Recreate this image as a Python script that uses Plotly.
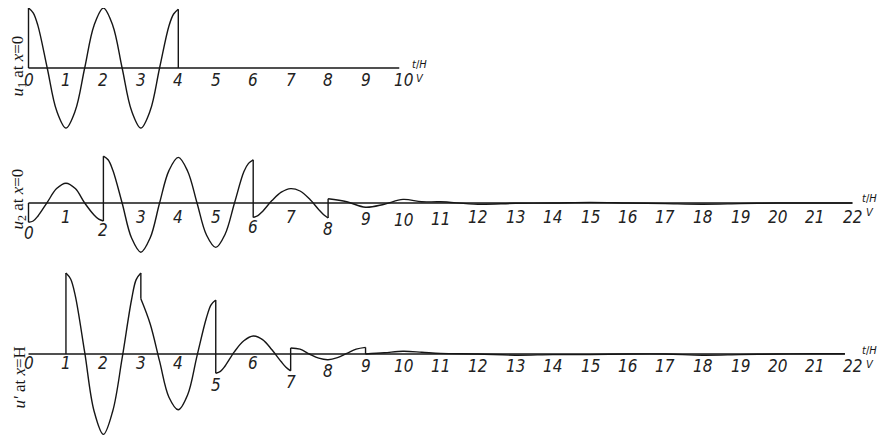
import plotly.graph_objects as go

# ---------------- data ----------------
# u1 at x=0  (jumps are written as repeated t values)
u1_t = [0, 0, 0.125, 0.25, 0.5, 0.75, 1, 1.25, 1.5, 1.75, 2, 2.25, 2.5, 2.75, 3, 3.25, 3.5, 3.75,
        3.875, 4, 4]
u1_v = [0, 1.0, 0.92, 0.71, 0.0, -0.71, -1.0, -0.71, 0.0, 0.71, 1.0, 0.71, 0.0, -0.71, -1.0,
        -0.71, 0.0, 0.7, 0.9, 0.98, 0]

# u2 at x=0
u2_t = [0, 0, 0.125, 0.25, 0.5, 0.75, 1, 1.25, 1.5, 1.75, 1.875, 2, 2, 2.125, 2.25, 2.5, 2.75, 3,
        3.25, 3.5, 3.75, 4, 4.25, 4.5, 4.75, 5, 5.25, 5.5, 5.75, 5.875, 6, 6, 6.125, 6.25, 6.5,
        6.75, 7, 7.25, 7.5, 7.75, 7.875, 8, 8, 8.5, 9, 9.5, 10, 10.5, 11, 12, 13, 14, 15, 16, 17,
        18, 19, 20, 21, 22]
u2_v = [0, -0.32, -0.3, -0.22, 0.01, 0.24, 0.33, 0.24, 0.0, -0.2, -0.27, -0.30, 0.78, 0.72, 0.55,
        0.0, -0.58, -0.82, -0.58, 0.0, 0.54, 0.76, 0.53, 0.0, -0.53, -0.74, -0.52, 0.0, 0.52, 0.66,
        0.72, -0.24, -0.21, -0.14, 0.04, 0.18, 0.24, 0.2, 0.07, -0.11, -0.19, -0.25, 0.07, 0.02,
        -0.07, -0.02, 0.06, 0.02, 0.02, -0.02, -0.005, 0.0, 0.01, 0.0, -0.01, -0.02, -0.01, 0.0,
        0.0, 0.0]

# u' at x=H
up_t = [1, 1, 1.125, 1.25, 1.5, 1.75, 2, 2.25, 2.5, 2.75, 2.875, 3, 3, 3.25, 3.5, 3.75, 4, 4.25,
        4.5, 4.75, 4.875, 5, 5, 5.125, 5.25, 5.5, 5.75, 6, 6.25, 6.5, 6.75, 6.875, 7, 7, 7.25, 7.5,
        7.75, 8, 8.25, 8.5, 8.75, 9, 9, 9.5, 10, 10.5, 11, 12, 13, 14, 15, 16, 17, 18, 19, 20, 21,
        21.8]
up_v = [0, 1.35, 1.25, 0.97, 0.03, -0.95, -1.34, -0.95, -0.07, 0.9, 1.24, 1.35, 0.92, 0.5, -0.12,
        -0.72, -0.93, -0.68, -0.03, 0.6, 0.82, 0.9, -0.32, -0.29, -0.2, 0.04, 0.22, 0.3, 0.24, 0.07,
        -0.13, -0.22, -0.28, 0.1, 0.08, 0.0, -0.07, -0.095, -0.06, 0.01, 0.08, 0.11, 0.0, 0.02,
        0.045, 0.03, 0.01, 0.0, -0.02, -0.01, -0.01, 0.0, 0.0, -0.02, -0.01, 0.0, 0.005, 0.005]

# axis extents (t) for each trace
axis_end = [9.9, 22.0, 21.8]

# tick labels
ticks_1 = [str(i) for i in range(0, 11)]
ticks_2 = [str(i) for i in range(0, 23)]
ticks_3 = [str(i) for i in range(0, 23)]

y_labels = ["<i>u</i><sub>1</sub> at <i>x</i>=0",
            "<i>u</i><sub>2</sub> at <i>x</i>=0",
            "<i>u'</i> at <i>x</i>=H"]
t_unit = "<i>t</i>/<i>H</i><br><i>V</i>"

# ---------------- layout geometry ----------------
# the page adds an 8px body margin, so the figure is 880x430 and pixel positions are page-8
W, H = 880, 430
X0PX, PXU = 20.5, 37.45       # pixel of t=0, pixels per unit t
VPX = 60                      # pixels per unit of u
axis_rows = [60, 195, 346]    # pixel row of each zero line
bands = [(0, 127), (127, 257), (257, 430)]

# label offsets below axis (px)
off_1 = {}
off_2 = {0: 30, 2: 27, 6: 24, 8: 26, 9: 16, 10: 17, 11: 16}
off_3 = {5: 31, 7: 28, 8: 17}
def_off = [12, 14, 9]
off_tail3 = 12

INK = "#161616"
FONT = "Liberation Sans Narrow, DejaVu Sans Condensed, Liberation Sans, sans-serif"

fig = go.Figure()

panels = [(u1_t, u1_v), (u2_t, u2_v), (up_t, up_v)]
for p, (tt, vv) in enumerate(panels):
    xa = "x" if p == 0 else f"x{p+1}"
    ya = "y" if p == 0 else f"y{p+1}"
    # zero line
    fig.add_trace(go.Scatter(x=[0, axis_end[p]], y=[0, 0], mode="lines",
                             line=dict(color=INK, width=1.5), xaxis=xa, yaxis=ya,
                             hoverinfo="skip", showlegend=False))
    # split curve at jumps
    segs = []
    cur_t, cur_v = [tt[0]], [vv[0]]
    for i in range(1, len(tt)):
        if tt[i] == tt[i - 1]:
            segs.append(("s", cur_t, cur_v))
            segs.append(("j", [tt[i - 1], tt[i]], [vv[i - 1], vv[i]]))
            cur_t, cur_v = [tt[i]], [vv[i]]
        else:
            cur_t.append(tt[i]); cur_v.append(vv[i])
    segs.append(("s", cur_t, cur_v))
    for kind, st, sv in segs:
        if len(st) < 2:
            continue
        fig.add_trace(go.Scatter(
            x=st, y=sv, mode="lines",
            line=dict(color=INK, width=1.4,
                      shape="spline" if kind == "s" else "linear", smoothing=1.0),
            xaxis=xa, yaxis=ya, hoverinfo="skip", showlegend=False))

xr = [-X0PX / PXU, (W - X0PX) / PXU]
lay = dict(width=W, height=H, margin=dict(l=0, r=0, t=0, b=0), autosize=False,
           paper_bgcolor="white", plot_bgcolor="white", showlegend=False)
for p in range(3):
    top, bot = bands[p]
    y0 = axis_rows[p]
    sfx = "" if p == 0 else str(p + 1)
    lay["xaxis" + sfx] = dict(range=xr, domain=[0, 1], visible=False, fixedrange=True,
                              anchor="y" + sfx)
    lay["yaxis" + sfx] = dict(range=[-(bot - y0) / VPX, (y0 - top) / VPX],
                              domain=[1 - bot / H, 1 - top / H], visible=False,
                              fixedrange=True, anchor="x" + sfx)
fig.update_layout(**lay)

ann = []
tick_sets = [ticks_1, ticks_2, ticks_3]
offs = [off_1, off_2, off_3]
for p in range(3):
    xa = "x" if p == 0 else f"x{p+1}"
    ya = "y" if p == 0 else f"y{p+1}"
    for i, lab in enumerate(tick_sets[p]):
        o = offs[p].get(i, def_off[p])
        if p == 2 and i >= 9 and i not in offs[p]:
            o = off_tail3
        ann.append(dict(x=i, y=0, xref=xa, yref=ya, text=f"<i>{lab}</i>", showarrow=False,
                        xanchor="center", yanchor="middle", yshift=-o,
                        font=dict(family=FONT, size=17, color="#222222")))
    # unit label
    endt = [10, 22, 22][p]
    ann.append(dict(x=endt, y=0, xref=xa, yref=ya, text=t_unit, showarrow=False,
                    xanchor="left", yanchor="middle", xshift=[7, 8, 8][p], yshift=-3,
                    font=dict(family=FONT, size=11, color=INK)))
# rotated y labels
for p, (yc, lab) in enumerate(zip([58, 191, 370], y_labels)):
    ann.append(dict(x=10.5 / W, y=1 - yc / H, xref="paper", yref="paper", text=lab,
                    showarrow=False, textangle=-90, xanchor="center", yanchor="middle",
                    font=dict(family="Liberation Serif, DejaVu Serif, serif", size=17, color=INK)))
fig.update_layout(annotations=ann)

fig.write_html("out.html")
